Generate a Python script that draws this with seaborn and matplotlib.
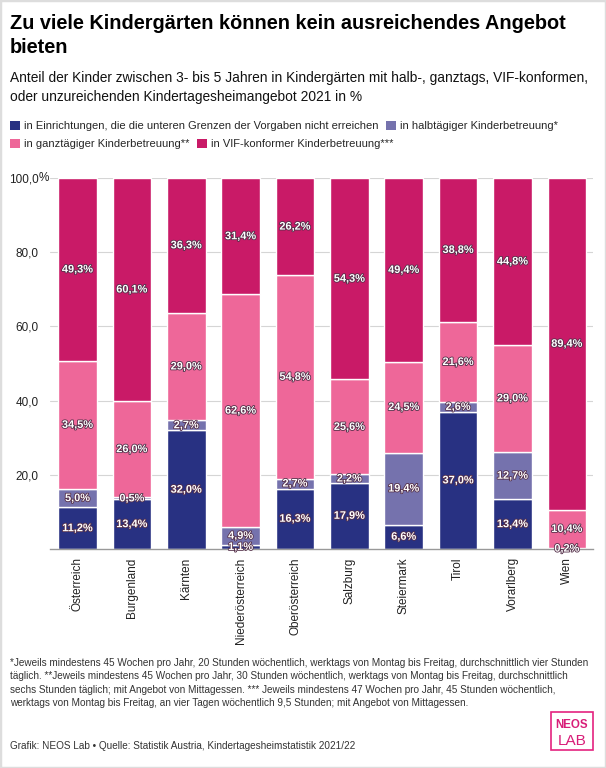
import numpy as np
import pandas as pd
import matplotlib.pyplot as plt
import matplotlib.patheffects as pe
from matplotlib.patches import Patch, Rectangle
from matplotlib.transforms import ScaledTranslation
import seaborn as sns

regions = ['Österreich', 'Burgenland', 'Kärnten', 'Niederösterreich', 'Oberösterreich',
           'Salzburg', 'Steiermark', 'Tirol', 'Vorarlberg', 'Wien']
unzureichend = [11.2, 13.4, 32.0, 1.1, 16.3, 17.9, 6.6, 37.0, 13.4, 0.0]
halbtags = [5.0, 0.5, 2.7, 4.9, 2.7, 2.2, 19.4, 2.6, 12.7, 0.2]
ganztags = [34.5, 26.0, 29.0, 62.6, 54.8, 25.6, 24.5, 21.6, 29.0, 10.4]
vif = [49.3, 60.1, 36.3, 31.4, 26.2, 54.3, 49.4, 38.8, 44.8, 89.4]

series_names = ['in Einrichtungen, die die unteren Grenzen der Vorgaben nicht erreichen',
                'in halbtägiger Kinderbetreuung*',
                'in ganztägiger Kinderbetreuung**',
                'in VIF-konformer Kinderbetreuung***']
colors = ['#283182', '#7572ad', '#ee6799', '#c91a67']

sns.set_theme(style='white')
plt.rcParams['font.family'] = ['Liberation Sans', 'DejaVu Sans']

df = pd.DataFrame({'Region': regions, 'u': unzureichend, 'h': halbtags, 'g': ganztags, 'v': vif})

fig = plt.figure(figsize=(6.06, 7.68), dpi=100)
ax = fig.add_axes([50/606, 1-549/768, (593-50)/606, (549-178)/768])

bottom = np.zeros(len(regions))
for col, name, c in zip(['u', 'h', 'g', 'v'], series_names, colors):
    sns.barplot(data=df, x='Region', y=col, bottom=bottom, color=c, width=0.71,
                saturation=1, ax=ax, zorder=3)
    for i, val in enumerate(df[col]):
        if val > 0:
            ax.text(i, bottom[i] + val/2, f'{val:.1f}%'.replace('.', ','), ha='center', va='center',
                    color='white', fontsize=7.9, fontweight='bold', zorder=5,
                    path_effects=[pe.withStroke(linewidth=1.2, foreground='#55304a')])
    bottom = bottom + df[col].values

ax.set_ylim(0, 100)
ax.set_xlim(-0.506, 9.48)
ax.set_yticks([20, 40, 60, 80, 100])
ax.set_yticklabels(['20,0', '40,0', '60,0', '80,0', '100,0'], fontsize=8.5)
ax.text(0, 100, '%', transform=ax.get_yaxis_transform() + ScaledTranslation(-0.11, 0, fig.dpi_scale_trans),
        ha='left', va='center', fontsize=8.5, color='#222222')
ax.tick_params(axis='y', length=0, pad=8, colors='#222222')
ax.tick_params(axis='x', length=0, pad=6, colors='#222222')
plt.setp(ax.get_xticklabels(), rotation=90, fontsize=8.5, va='top')
ax.set_xlabel('')
ax.set_ylabel('')
ax.grid(axis='y', color='#d5d5d5', linewidth=0.8, zorder=0)
for s in ['top', 'right', 'left']:
    ax.spines[s].set_visible(False)
ax.spines['bottom'].set_color('#999999')
ax.spines['bottom'].set_linewidth(1)
ax.spines['bottom'].set_zorder(4)

fig.text(10/606, 1-14/768, 'Zu viele Kindergärten können kein ausreichendes Angebot\nbieten',
         ha='left', va='top', fontsize=14.35, fontweight='bold', color='black', linespacing=1.32)
fig.text(10/606, 1-71/768, 'Anteil der Kinder zwischen 3- bis 5 Jahren in Kindergärten mit halb-, ganztags, VIF-konformen,\noder unzureichenden Kindertagesheimangebot 2021 in %',
         ha='left', va='top', fontsize=9.9, color='#111111', linespacing=1.42)

handles = [Patch(facecolor=c, edgecolor='none') for c in colors]
for idx, yy in [((0, 1), 126), ((2, 3), 144)]:
    fig.legend([handles[k] for k in idx], [series_names[k] for k in idx], ncol=2,
               loc='center left', bbox_to_anchor=(10/606, 1-yy/768), frameon=False,
               fontsize=8.0, handlelength=0.9, handleheight=0.9, handletextpad=0.4,
               columnspacing=0.6, borderaxespad=0, borderpad=0)

fig.text(10/606, 1-658/768,
         '*Jeweils mindestens 45 Wochen pro Jahr, 20 Stunden wöchentlich, werktags von Montag bis Freitag, durchschnittlich vier Stunden\n'
         'täglich. **Jeweils mindestens 45 Wochen pro Jahr, 30 Stunden wöchentlich, werktags von Montag bis Freitag, durchschnittlich\n'
         'sechs Stunden täglich; mit Angebot von Mittagessen. *** Jeweils mindestens 47 Wochen pro Jahr, 45 Stunden wöchentlich,\n'
         'werktags von Montag bis Freitag, an vier Tagen wöchentlich 9,5 Stunden; mit Angebot von Mittagessen.',
         ha='left', va='top', fontsize=7.17, color='#333333', linespacing=1.42)
fig.text(10/606, 1-746/768, 'Grafik: NEOS Lab • Quelle: Statistik Austria, Kindertagesheimstatistik 2021/22',
         ha='left', va='center', fontsize=7.17, color='#333333')

# logo
fig.patches.append(Rectangle((551/606, 1-750/768), 42/606, 38/768, transform=fig.transFigure,
                             facecolor='white', edgecolor='#e4237f', linewidth=1.2))
fig.text(572/606, 1-725/768, 'NEOS', ha='center', va='center', fontsize=8.3, fontweight='bold',
         color='#d81d78')
fig.text(572/606, 1-741/768, 'LAB', ha='center', va='center', fontsize=11, color='#d81d78')

fig.patches.append(Rectangle((0, 0), 1, 1, transform=fig.transFigure, facecolor='none',
                             edgecolor='#dddddd', linewidth=2.5))

fig.savefig('out.png', dpi=100)
